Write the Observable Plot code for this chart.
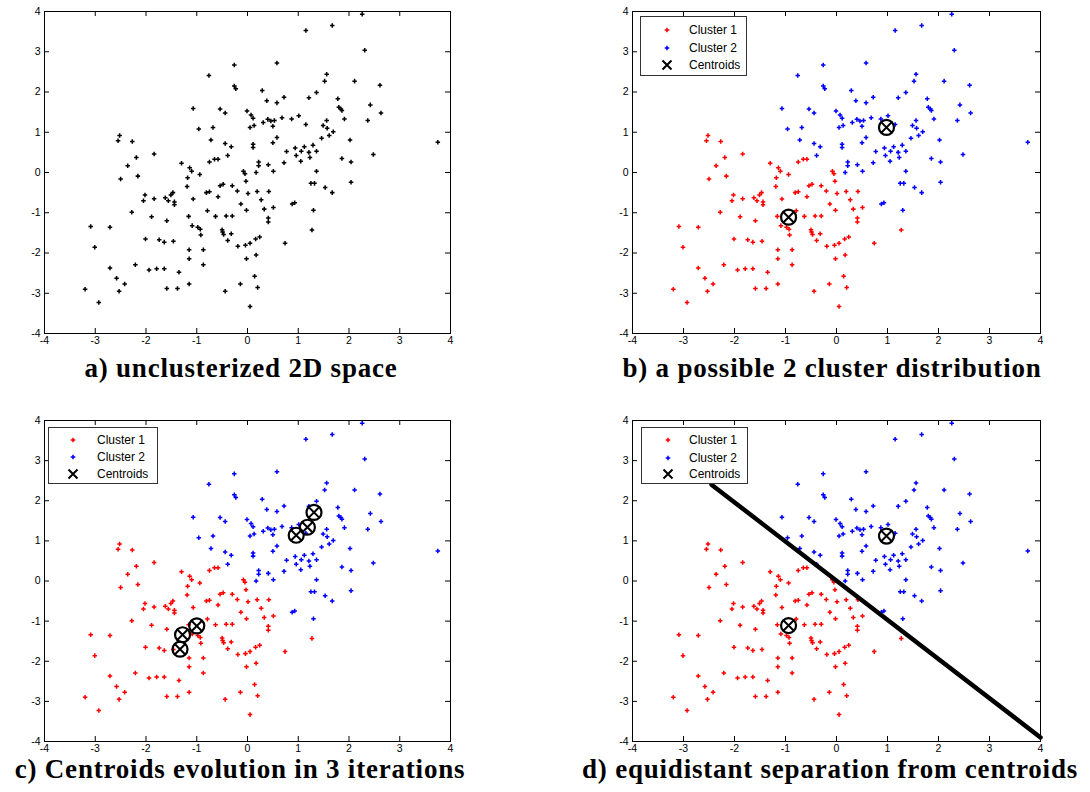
<!DOCTYPE html>
<html><head><meta charset="utf-8">
<script src="https://cdn.jsdelivr.net/npm/d3@7"></script>
<script src="https://cdn.jsdelivr.net/npm/@observablehq/plot@0.6"></script>
<style>
body{margin:0;background:#fff;width:1090px;height:792px;overflow:hidden;position:relative;font-family:"Liberation Sans",Arial,sans-serif}
.panel{position:absolute}
.title{position:absolute;font-family:"Liberation Serif","Times New Roman",serif;font-weight:bold;font-size:27px;line-height:20px;letter-spacing:0.8px;white-space:nowrap;transform:translateX(-50%);color:#000}
.legend{position:absolute;border:1px solid #333;background:#fff;font-size:12px;box-sizing:border-box}
.legend .row{position:absolute;left:0;height:16px;line-height:16px;white-space:nowrap}
.legend .lbl{position:absolute;top:0}
.legend svg{position:absolute;top:0}
</style></head><body>
<script>
// ---- data ----
const ticks = [-4, -3, -2, -1, 0, 1, 2, 3, 4];
const redPts = [
[-2.52,0.92],[-2.55,0.79],[-2.27,0.77],[-2.19,0.37],[-1.84,0.46],[-2.36,0.17],[-1.30,0.23],
[-1.14,0.12],[-1.10,0.03],[-0.75,0.26],[-0.65,0.33],[-0.58,0.33],
[-1.18,-0.13],[-0.94,-0.05],[-0.08,0.03],[-0.05,-0.03],[-1.19,-0.35],[-0.54,-0.33],[-0.48,-0.29],[-0.30,-0.33],[-0.03,-0.22],
[-0.81,-0.50],[-0.75,-0.48],[-0.58,-0.60],[-0.20,-0.46],[0.01,-0.52],[0.19,-0.47],[0.42,-0.47],[-1.07,-0.66],[0.27,-0.68],
[-0.13,-0.78],[-0.02,-0.94],[0.33,-0.91],[0.51,-0.87],[0.41,-1.13],[0.41,-1.23],[1.27,-1.43],[-0.63,-1.09],[-0.42,-1.08],
[-0.30,-1.08],[-1.16,-1.09],[-0.79,-0.95],[-1.09,-1.32],[-0.98,-1.36],[-0.93,-1.41],[-0.92,-1.55],[-0.50,-1.42],[-0.49,-1.48],
[-0.47,-1.54],[-0.32,-1.52],[-0.39,-1.69],[-0.19,-1.83],[-0.04,-1.81],[0.05,-1.76],[0.16,-1.65],[0.24,-1.60],[0.74,-1.76],
[-1.15,-1.92],[-0.87,-1.92],[-1.15,-2.14],[-0.02,-2.14],[0.17,-2.05],[-0.87,-2.29],[0.14,-2.58],[-1.15,-2.77],[-0.14,-2.77],
[0.20,-2.86],[-0.44,-2.95],[0.05,-3.33],
[-2.50,-0.16],[-2.16,-0.09],[-2.02,-0.56],[-2.05,-0.70],[-1.84,-0.65],[-1.62,-0.63],[-1.56,-0.70],[-1.51,-0.56],[-1.47,-0.50],
[-1.44,-0.73],[-1.44,-0.80],[-2.28,-0.99],[-1.89,-1.10],[-1.59,-1.20],[-3.09,-1.34],[-2.71,-1.36],[-3.01,-1.86],[-2.01,-1.65],
[-1.74,-1.67],[-1.64,-1.73],[-1.46,-1.71],[-2.71,-2.37],[-2.21,-2.29],[-1.94,-2.42],[-1.79,-2.39],[-1.64,-2.39],[-1.35,-2.48],
[-2.58,-2.63],[-2.42,-2.77],[-2.53,-2.95],[-3.20,-2.90],[-1.59,-2.88],[-1.38,-2.88],[-2.93,-3.23]
];
const bluePts = [
[1.15,3.53],[-0.26,2.67],[0.58,2.72],[-0.76,2.41],[-0.26,2.15],[-0.23,2.08],[0.29,2.04],[0.38,1.78],[0.58,1.73],[0.72,1.87],
[1.21,1.86],[1.36,1.99],[-1.07,1.59],[-0.54,1.58],[-0.44,1.48],[-0.01,1.53],[0.07,1.43],[0.11,1.35],[0.05,1.12],[0.13,1.17],
[0.31,1.24],[0.40,1.32],[0.46,1.28],[0.53,1.29],[0.50,1.15],[0.68,1.36],[0.87,1.33],[1.01,1.41],[1.15,1.19],[-0.96,1.08],
[-0.68,1.12],[-0.72,0.81],[-0.44,0.72],[-0.32,0.64],[-0.39,0.42],[0.11,0.70],[0.11,0.62],[0.58,0.87],[0.50,0.74],[0.77,0.52],
[0.94,0.61],[0.96,0.42],[1.06,0.53],[1.12,0.64],[1.21,0.50],[1.29,0.68],[1.23,0.37],[1.36,0.53],[1.05,0.28],[0.72,0.24],
[0.41,0.19],[0.22,0.26],[0.22,0.17],
[2.26,3.93],[1.67,3.65],[2.31,3.04],[1.56,2.44],[1.52,2.27],[2.11,2.27],[2.61,2.17],[1.78,1.83],[2.42,1.68],[1.80,1.62],
[1.84,1.58],[1.86,1.54],[2.63,1.48],[1.91,1.33],[2.37,1.29],[1.56,1.29],[1.49,1.17],[1.57,1.10],[1.69,1.01],[1.61,0.92],
[1.46,0.85],[2.02,0.81],[3.75,0.75],[2.48,0.45],[1.86,0.35],[2.04,0.26],[1.36,0.03],
[1.32,-0.27],[1.53,-0.37],[1.67,-0.50],[2.04,-0.24],
[0.17,0.00],[0.51,0.03],[0.88,-0.78],[0.93,-0.75],[1.25,-0.27],[1.30,-0.94]
];
const centroidsFinal = [[-0.94,-1.11],[0.98,1.12]];
const centroidsIter = [[-1.33,-1.70],[-1.28,-1.34],[-1.00,-1.12],[1.31,1.71],[1.18,1.34],[0.96,1.14]];
const separationLine = [[-2.45,2.40],[4,-3.90]];
const titles = ["a) unclusterized 2D space","b) a possible 2 cluster distribution","c) Centroids evolution in 3 iterations","d) equidistant separation from centroids"];
const legendLabels = ["Cluster 1","Cluster 2","Centroids"];
const colors = {red:"#ff0000", blue:"#0000ff", black:"#000000"};

// ---- drawing ----
const gx = d => d[0], gy = d => d[1];
function panel({colored, centroids, line, plotW, plotH}) {
  const marks = [
    Plot.frame({stroke:"#000"}),
    Plot.ruleX(ticks, {x: d => d, y1: -4, y2: -3.876, stroke:"#000"}),
    Plot.ruleX(ticks, {x: d => d, y1: 4, y2: 3.876, stroke:"#000"}),
    Plot.ruleY(ticks, {y: d => d, x1: -4, x2: -3.902, stroke:"#000"}),
    Plot.ruleY(ticks, {y: d => d, x1: 4, x2: 3.902, stroke:"#000"}),
    Plot.axisX(ticks, {anchor:"bottom", tickSize:0, tickPadding:3, tickFormat: d => String(d), fontSize:10.5}),
    Plot.axisY(ticks, {anchor:"left", tickSize:0, tickPadding:4, tickFormat: d => String(d), fontSize:10.5})
  ];
  if (colored) {
    marks.push(Plot.dot(redPts, {x:gx, y:gy, symbol:"cross", r:1.9, fill:colors.red}));
    marks.push(Plot.dot(bluePts, {x:gx, y:gy, symbol:"cross", r:1.9, fill:colors.blue}));
  } else {
    marks.push(Plot.dot(redPts.concat(bluePts), {x:gx, y:gy, symbol:"cross", r:1.9, fill:colors.black}));
  }
  if (line) marks.push(Plot.line(line, {x:gx, y:gy, stroke:"#000", strokeWidth:4.5}));
  if (centroids) {
    marks.push(Plot.dot(centroids, {x:gx, y:gy, r:7.5, stroke:"#000", strokeWidth:2.2, fill:"none"}));
    marks.push(Plot.dot(centroids, {x:gx, y:gy, symbol:"times", r:5.3, stroke:"#000", strokeWidth:2}));
  }
  return Plot.plot({
    width: 24 + plotW + 10, height: 11 + plotH + 20,
    marginLeft: 24, marginRight: 10, marginTop: 11, marginBottom: 20,
    x: {domain: [-4, 4]}, y: {domain: [-4, 4]},
    style: {fontFamily: "'Liberation Sans', Arial, sans-serif", fontSize: "10.5px", color: "#000", background: "transparent", overflow: "visible"},
    marks
  });
}

function place(el, left, top) {
  el.classList.add("panel");
  el.style.left = left + "px"; el.style.top = top + "px";
  document.body.appendChild(el);
}
place(panel({colored:false, plotW:406, plotH:322}), 20, 0);
place(panel({colored:true, centroids:centroidsFinal, plotW:408, plotH:322}), 608, 0);
place(panel({colored:true, centroids:centroidsIter, plotW:406, plotH:321}), 20, 409);
place(panel({colored:true, centroids:centroidsFinal, line:separationLine, plotW:408, plotH:321}), 608, 409);

function legend(left, top, w, h, rowYs, markX, textX) {
  const box = document.createElement("div");
  box.className = "legend";
  Object.assign(box.style, {left: left+"px", top: top+"px", width: w+"px", height: h+"px"});
  const swatch = [colors.red, colors.blue, null];
  legendLabels.forEach((lab, i) => {
    const row = document.createElement("div");
    row.className = "row";
    row.style.top = (rowYs[i] - 8) + "px";
    row.style.width = w + "px";
    const ns = "http://www.w3.org/2000/svg";
    const s = document.createElementNS(ns, "svg");
    s.setAttribute("width", 14); s.setAttribute("height", 16);
    s.style.left = (markX - 7) + "px";
    const p = document.createElementNS(ns, "path");
    if (swatch[i]) {
      p.setAttribute("d", d3.symbol(d3.symbolCross, 12)());
      p.setAttribute("fill", swatch[i]);
    } else {
      p.setAttribute("d", "M-4.5,-4.5L4.5,4.5M-4.5,4.5L4.5,-4.5");
      p.setAttribute("stroke", "#000"); p.setAttribute("stroke-width", 2); p.setAttribute("fill", "none");
    }
    p.setAttribute("transform", "translate(7,8)");
    s.appendChild(p);
    row.appendChild(s);
    const t = document.createElement("span");
    t.className = "lbl"; t.textContent = lab; t.style.left = textX + "px";
    row.appendChild(t);
    box.appendChild(row);
  });
  document.body.appendChild(box);
}
legend(640, 16, 107, 60, [13, 31, 48], 26, 48);
legend(48, 427, 110, 57, [12, 29, 46], 24, 48);
legend(641, 427, 107, 57, [12, 30, 46], 26, 47);

function title(text, cx, top) {
  const d = document.createElement("div");
  d.className = "title"; d.textContent = text;
  d.style.left = cx + "px"; d.style.top = top + "px";
  document.body.appendChild(d);
}
title(titles[0], 241, 358);
title(titles[1], 832, 358);
title(titles[2], 240, 759);
title(titles[3], 830, 759);
</script>
</body></html>
